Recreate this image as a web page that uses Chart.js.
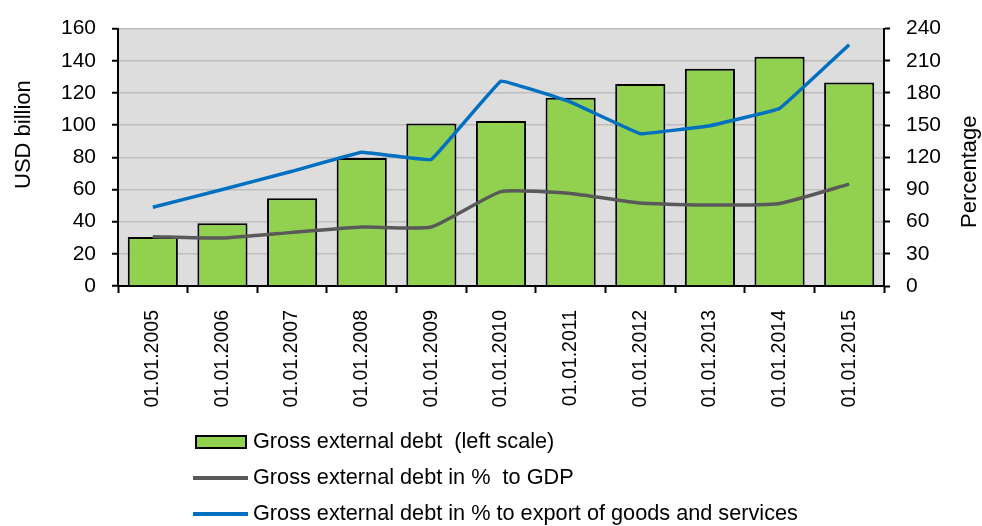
<!DOCTYPE html>
<html>
<head>
<meta charset="utf-8">
<script src="https://cdn.jsdelivr.net/npm/chart.js@4"></script>
<style>
  body { margin: 0; background: #fff; }
  #wrap { width: 982px; height: 526px; position: relative; }
</style>
</head>
<body>
<div id="wrap"><canvas id="debt-chart"></canvas></div>
<script>
const years = ['01.01.2005','01.01.2006','01.01.2007','01.01.2008','01.01.2009','01.01.2010',
               '01.01.2011','01.01.2012','01.01.2013','01.01.2014','01.01.2015']
// USD billion, left scale
const grossDebt = [30.5, 39, 54.5, 79.5, 101, 102.5, 117, 125.5, 135, 142.5, 126.5]
// percent, right scale
const debtToGdp = [46, 44.7, 50, 55, 55, 88, 86.3, 77.3, 75.5, 77, 95]
const debtToExport = [73.4, 90, 107, 124.7, 118, 191, 171.5, 142, 149.5, 165.5, 225]

const leftTicks = { min: 0, max: 160, step: 20 }
const rightTicks = { min: 0, max: 240, step: 30 }

const FONT = "'Liberation Sans', Arial, sans-serif"

// grey plot background, axis titles and the stacked legend under the chart
const extras = {
  id: 'extras',
  beforeDraw(chart) {
    const { ctx, chartArea: a } = chart
    ctx.save()
    ctx.fillStyle = '#dddddd'
    ctx.fillRect(a.left, a.top, a.right - a.left, a.bottom - a.top)
    ctx.restore()
  },
  afterDraw(chart) {
    const ctx = chart.ctx
    ctx.save()
    ctx.fillStyle = '#000'
    ctx.font = `22px ${FONT}`
    ctx.textBaseline = 'alphabetic'
    ctx.textAlign = 'left'
    ctx.save()
    ctx.translate(30, 189)
    ctx.rotate(-Math.PI / 2)
    ctx.fillText('USD billion', 0, 0)
    ctx.restore()
    ctx.save()
    ctx.translate(976, 228)
    ctx.rotate(-Math.PI / 2)
    ctx.fillText('Percentage', 0, 0)
    ctx.restore()

    // legend
    const rows = [442, 478, 514]
    ctx.font = `21.7px ${FONT}`
    ctx.textBaseline = 'middle'
    chart.data.datasets.forEach((ds, i) => {
      const y = rows[i]
      if (ds.type === 'bar') {
        ctx.fillStyle = ds.backgroundColor
        ctx.fillRect(196, y - 6, 50, 12)
        ctx.strokeStyle = '#000'
        ctx.lineWidth = 2
        ctx.strokeRect(196, y - 6, 50, 12)
      } else {
        ctx.strokeStyle = ds.borderColor
        ctx.lineWidth = 4
        ctx.beginPath()
        ctx.moveTo(193, y)
        ctx.lineTo(248, y)
        ctx.stroke()
      }
      ctx.fillStyle = '#000'
      ctx.fillText(ds.label, 253, y)
    })
    ctx.restore()
  }
}

new Chart(document.getElementById('debt-chart'), {
  data: {
    labels: years,
    datasets: [
      {
        type: 'bar',
        label: 'Gross external debt  (left scale)',
        data: grossDebt,
        yAxisID: 'y',
        backgroundColor: '#92d050',
        borderColor: '#000',
        borderWidth: 2,
        barPercentage: 0.72,
        categoryPercentage: 1,
        order: 3
      },
      {
        type: 'line',
        label: 'Gross external debt in %  to GDP',
        data: debtToGdp,
        yAxisID: 'y1',
        borderColor: '#595959',
        borderWidth: 3.5,
        pointRadius: 0,
        tension: 0.15,
        order: 2
      },
      {
        type: 'line',
        label: 'Gross external debt in % to export of goods and services',
        data: debtToExport,
        yAxisID: 'y1',
        borderColor: '#0070c0',
        borderWidth: 3.5,
        pointRadius: 0,
        tension: 0.05,
        order: 1
      }
    ]
  },
  options: {
    responsive: true,
    maintainAspectRatio: false,
    animation: false,
    layout: { padding: { left: 0, right: 0, top: 21, bottom: 100 } },
    plugins: {
      legend: { display: false },
      tooltip: { enabled: false }
    },
    scales: {
      x: {
        afterFit: s => { s.height = 140 },
        grid: { drawOnChartArea: false, tickLength: 7, tickColor: '#000', tickWidth: 2 },
        border: { color: '#000', width: 2 },
        ticks: {
          color: '#000', autoSkip: false, minRotation: 90, maxRotation: 90, padding: 17,
          font: { family: FONT, size: 19.5 }
        }
      },
      y: {
        position: 'left',
        min: leftTicks.min, max: leftTicks.max,
        afterFit: s => { s.width = 118 },
        grid: { color: '#bdbdbd', lineWidth: 1.5, tickLength: 6, tickColor: '#000', tickWidth: 2 },
        border: { color: '#000', width: 2 },
        ticks: { stepSize: leftTicks.step, color: '#000', padding: 16, font: { family: FONT, size: 21 } }
      },
      y1: {
        position: 'right',
        min: rightTicks.min, max: rightTicks.max,
        afterFit: s => { s.width = 98 },
        grid: { drawOnChartArea: false, tickLength: 6, tickColor: '#000', tickWidth: 2 },
        border: { color: '#000', width: 2 },
        ticks: { stepSize: rightTicks.step, color: '#000', padding: 16, font: { family: FONT, size: 21 } }
      }
    }
  },
  plugins: [extras]
})
</script>
</body>
</html>
